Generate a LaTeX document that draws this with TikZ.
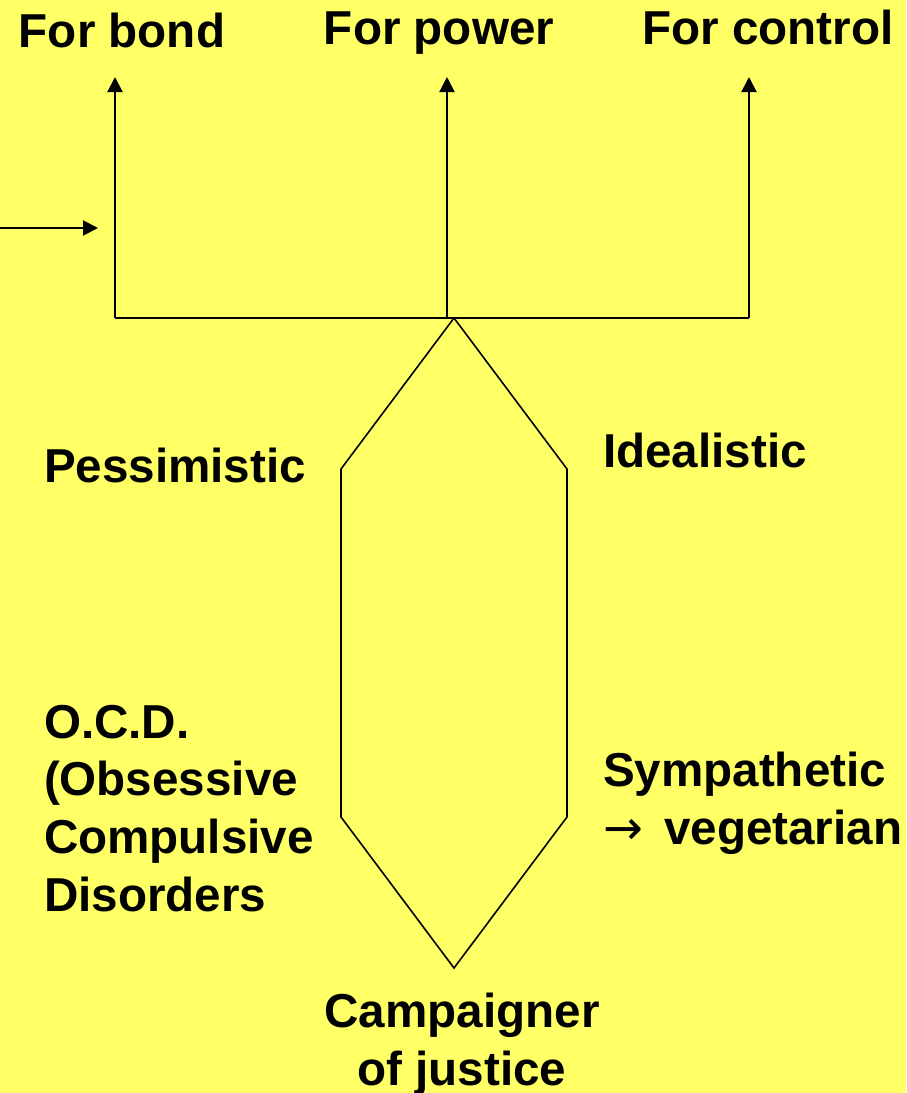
\documentclass[tikz,border=0pt]{standalone}
\usepackage{fontspec}
\setmainfont{Liberation Sans}
\newfontfamily\arrowfont{DejaVu Sans}
\usetikzlibrary{arrows.meta}
\definecolor{slide}{HTML}{FFFF66}
\tikzset{>={Triangle[width=7.5pt,length=7.5pt]}}
\tikzset{lbl/.style={inner sep=0pt,font=\bfseries\fontsize{23.8}{28.8}\selectfont,align=left}}

\begin{document}
\begin{tikzpicture}[x=0.5pt,y=-0.5pt,line width=1pt]

  \fill[slide] (0,0) rectangle (906,1093);
  \useasboundingbox (0,0) rectangle (906,1093);

  %% top labels
  \node[lbl,anchor=base] (bond) at (122,47) {For bond};
  \node[lbl,anchor=base] (power) at (439,44) {For power};
  \node[lbl,anchor=base] (control) at (768,44) {For control};

  %% side labels
  \node[lbl,anchor=base west] (pess) at (43,482) {Pessimistic};
  \node[lbl,anchor=base west] (ideal) at (602,467) {Idealistic};
  \node[lbl,anchor=north west] (ocd) at (43,704) {O.C.D.\\(Obsessive\\Compulsive\\Disorders};
  \node[lbl,anchor=north west] (symp) at (602,751) {Sympathetic\\{\arrowfont\mdseries →}\hspace{4pt} vegetarian};
  \node[lbl,anchor=north,align=center] (camp) at (462,992) {Campaigner\\of justice};

  %% bar and the three arrows
  \coordinate (barL) at (115,318);
  \coordinate (barM) at (447,318);
  \coordinate (barR) at (749,318);
  \coordinate (tipL) at (115,77);
  \coordinate (tipM) at (447,77);
  \coordinate (tipR) at (749,77);
  \draw (barL) -- (barR);
  \draw[->] (barL) -- (tipL); % bond
  \draw[->] (barM) -- (tipM); % power
  \draw[->] (barR) -- (tipR); % control

  %% incoming arrow
  \coordinate (src) at (0,228);
  \coordinate (srcEnd) at (98,228);
  \draw[->] (src) -- (srcEnd);

  %% hexagon
  \coordinate (hexT) at (454,318);
  \coordinate (hexUR) at (567,469);
  \coordinate (hexLR) at (567,817);
  \coordinate (hexB) at (454,968);
  \coordinate (hexLL) at (341,817);
  \coordinate (hexUL) at (341,469);
  \draw[line width=0.8pt] (hexT) -- (hexUR) -- (hexLR) -- (hexB) -- (hexLL) -- (hexUL) -- cycle;

\end{tikzpicture}
\end{document}
